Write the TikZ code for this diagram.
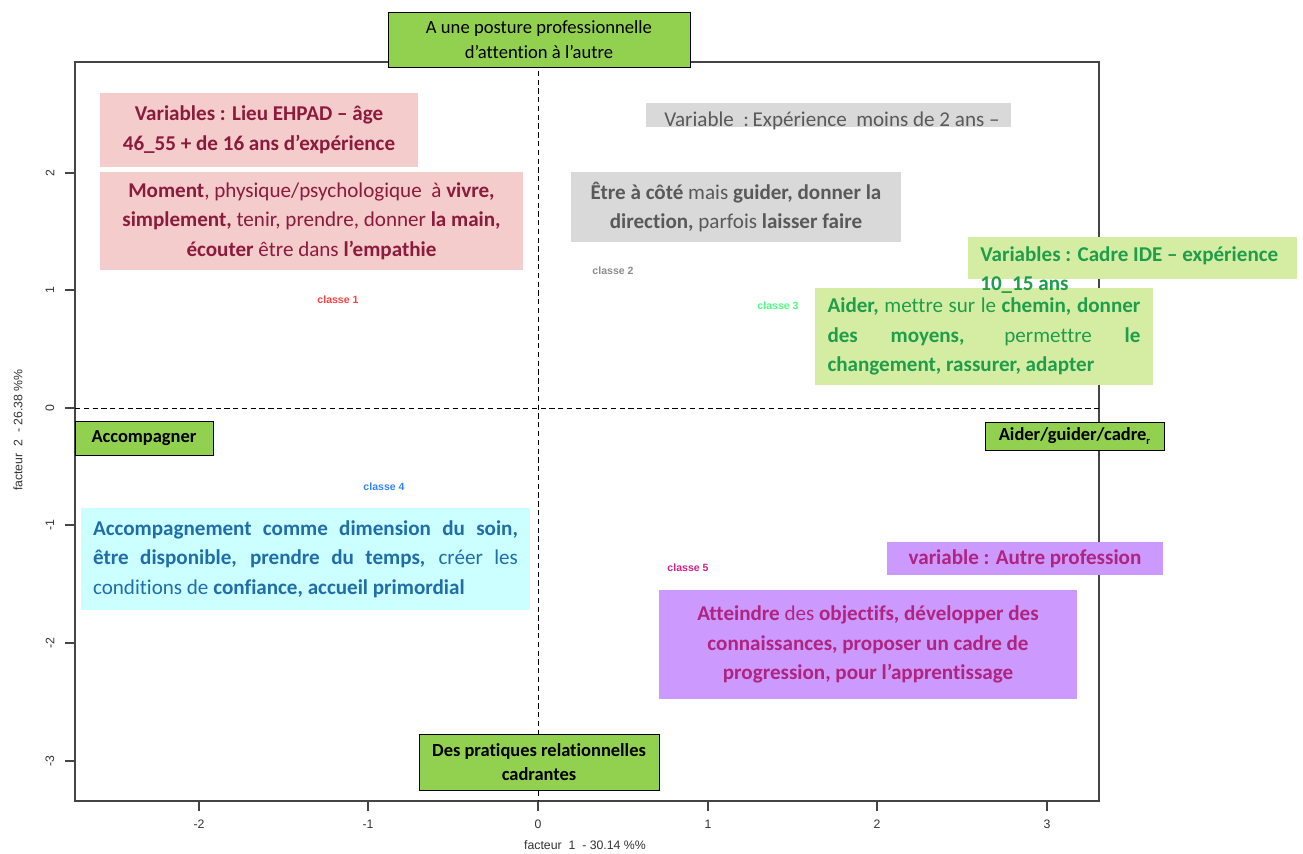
\documentclass[tikz,border=0pt]{standalone}
\usepackage{fontspec}
\setmainfont{Carlito}[Ligatures=NoCommon]
\newfontfamily\plotfont{Liberation Sans}
\usetikzlibrary{positioning}

\definecolor{keygreen}{HTML}{92D050}
\definecolor{pinkfill}{HTML}{F4CCCC}
\definecolor{pinktext}{HTML}{8C1A3C}
\definecolor{grayfill}{HTML}{D9D9D9}
\definecolor{graytext}{HTML}{595959}
\definecolor{limefill}{HTML}{D5EDA3}
\definecolor{limetext}{HTML}{1E9E4A}
\definecolor{cyanfill}{HTML}{CCFFFF}
\definecolor{cyantext}{HTML}{1F6EA8}
\definecolor{lilacfill}{HTML}{CC99FF}
\definecolor{lilactext}{HTML}{B0237F}
\definecolor{framegray}{HTML}{444444}

\begin{document}
\begin{tikzpicture}[
    x=0.02cm, y=-0.02cm,
    keybox/.style={rectangle, draw=black, line width=0.5pt, fill=keygreen, align=center, inner sep=0pt, font=\fontsize{10.6}{14}\selectfont},
    classbox/.style={rectangle, inner sep=0pt, align=center, font=\fontsize{12}{16.8}\selectfont},
    classlabel/.style={font=\plotfont\bfseries\fontsize{6}{7}\selectfont},
    ticklabel/.style={font=\plotfont\fontsize{7}{8}\selectfont, text=black!80},
    axisline/.style={draw=framegray, line width=0.8pt},
    zeroline/.style={draw=black, line width=0.5pt, dash pattern=on 3pt off 2pt}
]
    \useasboundingbox[fill=white] (0,0) rectangle (1303,853);

    % Plot frame, zero lines and axes
    \coordinate (nw) at (75,62);
    \coordinate (se) at (1099,801);
    \draw[axisline] (nw) rectangle (se);
    \draw[zeroline] (538,62) -- (538,801);
    \draw[zeroline] (75,408) -- (1099,408);

    \foreach \v/\px [count=\i] in {-2/199,-1/368,0/538,1/708,2/877,3/1047} {
        \draw[axisline] (\px,801) -- (\px,811);
        \node[ticklabel] (xtick\i) at (\px,824) {\v};
    }
    \foreach \v/\py [count=\i] in {2/173,1/290,0/408,-1/525,-2/643,-3/761} {
        \draw[axisline] (75,\py) -- (65,\py);
        \node[ticklabel, rotate=90] (ytick\i) at (50,\py) {\v};
    }
    \node[ticklabel] (xlabel) at (585,845) {facteur\ \ 1\ \ -\ 30.14 \%\%};
    \node[ticklabel, rotate=90] (ylabel) at (18,430) {facteur\ \ 2\ \ -\ 26.38 \%\%};

    % Class labels
    \node[classlabel, text=red!75] (c1) at (338,300) {classe 1};
    \node[classlabel, text=black!45] (c2) at (613,271) {classe 2};
    \node[classlabel, text=green!70!cyan!70] (c3) at (778,306) {classe 3};
    \node[classlabel, text=blue!60!cyan!80] (c4) at (384,487) {classe 4};
    \node[classlabel, text=magenta!70!violet] (c5) at (688,568) {classe 5};

    % Class 1 (top left)
    \node[classbox, fill=pinkfill, text=pinktext, minimum width=6.36cm, minimum height=1.48cm] (var1) at (259,130)
        {\textbf{Variables : Lieu EHPAD – âge}\\\textbf{46\_55 + de 16 ans d’expérience}};
    \node[classbox, fill=pinkfill, text=pinktext, minimum width=8.46cm, minimum height=1.96cm] (txt1) at (311.5,221)
        {\textbf{Moment}, physique/psychologique\ \ à \textbf{vivre,}\\\textbf{simplement,} tenir, prendre, donner \textbf{la main,}\\\textbf{écouter} être dans \textbf{l’empathie}};

    % Class 2 (top right)
    \node[rectangle, fill=grayfill, minimum width=7.30cm, minimum height=0.48cm] (var2) at (828.5,115) {};
    \node[classbox, text=graytext] (var2txt) at (832,121) {Variable\ \ :\,Expérience\ \ moins\ de\ 2\ ans\ –};
    \node[classbox, fill=grayfill, text=graytext, minimum width=6.60cm, minimum height=1.40cm] (txt2) at (736,207)
        {\textbf{Être à côté} mais \textbf{guider, donner\ la}\\\textbf{direction,} parfois \textbf{laisser faire}};

    % Class 3 (right)
    \node[classbox, fill=limefill, text=limetext, align=justify, text width=6.26cm, minimum width=6.76cm, minimum height=1.94cm] (txt3) at (984,336.5)
        {\textbf{Aider,} mettre sur le \textbf{chemin, donner}\linebreak \textbf{des moyens,} permettre \textbf{le}\linebreak \textbf{changement, rassurer,\ adapter}};
    \node[rectangle, fill=limefill, minimum width=6.58cm, minimum height=0.84cm] (var3) at (1132.5,258) {};
    \node[classbox, text=limetext, align=left, anchor=north west] (var3txt) at (980,246)
        {\textbf{Variables : Cadre IDE – expérience}\\\textbf{10\_15 ans}};

    % Class 4 (bottom left)
    \node[classbox, fill=cyanfill, text=cyantext, align=justify, text width=8.50cm, minimum width=8.98cm, minimum height=2.04cm] (txt4) at (305.5,559)
        {\textbf{Accompagnement comme dimension du soin,}\linebreak \textbf{être disponible, prendre du temps,} créer les\linebreak conditions de \textbf{confiance, accueil primordial}};

    % Class 5 (bottom right)
    \node[classbox, fill=lilacfill, text=lilactext, minimum width=5.52cm, minimum height=0.66cm] (var5) at (1025,558.5)
        {\textbf{variable : Autre profession}};
    \node[classbox, fill=lilacfill, text=lilactext, minimum width=8.36cm, minimum height=2.18cm] (txt5) at (868,644.5)
        {\textbf{Atteindre} des \textbf{objectifs, développer des}\\\textbf{connaissances, proposer un cadre de}\\\textbf{progression, pour l’apprentissage}};

    % Axis poles
    \node[keybox, minimum width=6.04cm, minimum height=1.10cm] (top) at (539,39.5)
        {A une posture professionnelle\\d’attention à l’autre};
    \node[keybox, font=\bfseries\fontsize{10.5}{14}\selectfont, minimum width=4.80cm, minimum height=1.12cm] (bottom) at (539,762)
        {Des pratiques relationnelles\\cadrantes};
    \node[keybox, font=\bfseries\fontsize{10.5}{14}\selectfont, minimum width=2.76cm, minimum height=0.68cm] (left) at (144,438)
        {Accompagner};
    \node[keybox, font=\bfseries\fontsize{10.5}{14}\selectfont, minimum width=3.58cm, minimum height=0.56cm] (right) at (1074.5,436)
        {Aider/guider/cadre\raisebox{-0.4ex}{\fontsize{6}{6}\selectfont r}};

\end{tikzpicture}
\end{document}
